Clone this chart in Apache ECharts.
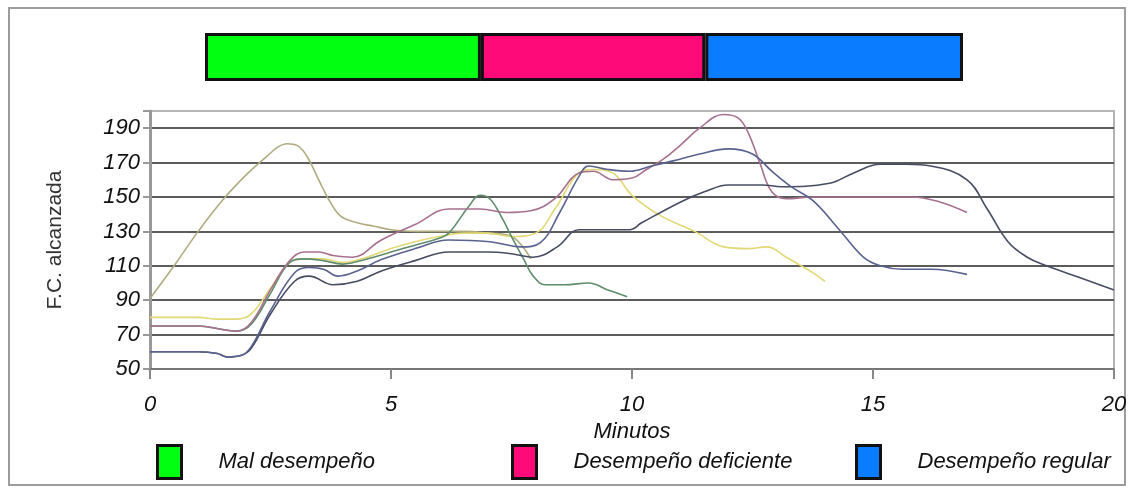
<!DOCTYPE html>
<html>
<head>
<meta charset="utf-8">
<script src="https://cdn.jsdelivr.net/npm/echarts@6/dist/echarts.min.js"></script>
<style>
  html, body { margin: 0; padding: 0; background: #fff; }
  #chart { width: 1134px; height: 493px; }
</style>
</head>
<body>
<div id="chart"></div>
<script>
// bandas de desempeño (barra superior), en % del ancho
var bandNames = ['Mal desempeño', 'Desempeño deficiente', 'Desempeño regular'];
var bandValues = [36.4, 29.6, 34.0];
var bandColors = ['#00ff11', '#ff0a78', '#0a7cff'];

// eje Y
var yTicks = [50, 70, 90, 110, 130, 150, 170, 190];

// curvas de F.C. [minuto, latidos]
var lineOlive = [[0,91],[0.5,110],[1,130],[1.5,148],[2,163],[2.4,173],[2.65,179],[2.85,181],[3.05,180],[3.25,174],[3.5,160],[3.7,149],[3.95,139],[4.3,135],[4.65,133],[5,131],[5.5,130],[6,130],[6.5,130],[7,129],[7.5,127],[7.9,114]];
var lineYellow = [[0,80],[0.5,80],[1,80],[1.4,79],[1.8,79],[2.1,82],[2.5,97],[2.9,112],[3.2,114],[3.6,114],[4,112],[4.5,115],[5,120],[5.5,124],[6,127],[6.5,129],[7,129],[7.5,127],[8,129],[8.4,143],[8.9,164],[9.2,166],[9.6,164],[10,151],[10.6,139],[11.3,130],[11.9,121],[12.4,120],[12.8,121],[13.2,115],[13.75,106],[14,101]];
var lineGreen = [[0,75],[0.5,75],[1,75],[1.5,73],[1.8,72],[2.1,76],[2.5,94],[2.9,112],[3.2,114],[3.6,113],[4,111],[4.5,114],[5,118],[5.5,122],[6,126],[6.2,129],[6.6,144],[6.85,151],[7.05,149],[7.3,138],[7.5,127],[7.75,114],[7.95,104],[8.2,99],[8.6,99],[9.1,100],[9.5,96],[9.9,92]];
var lineMauve = [[0,75],[0.5,75],[1,75],[1.5,73],[1.8,72],[2.1,77],[2.5,96],[2.9,113],[3.2,118],[3.5,118],[3.8,116],[4.2,115],[4.8,125],[5.5,134],[6.2,143],[6.85,143],[7.4,141],[7.9,142],[8.4,149],[8.9,164],[9.2,165],[9.6,160],[10,161],[10.3,166],[10.65,172],[11,180],[11.4,190],[11.9,198],[12.2,196],[12.4,188],[12.65,170],[12.9,153],[13.2,149],[13.75,150],[14.5,150],[15.2,150],[15.8,150],[16.4,147],[16.95,141]];
var lineSlate = [[0,60],[0.5,60],[1,60],[1.4,59],[1.6,57],[1.9,58],[2.1,62],[2.5,82],[3,101],[3.3,104],[3.8,99],[4.3,101],[4.8,107],[5.5,113],[6.2,118],[7,118],[7.5,117],[7.95,115],[8.45,121],[8.9,131],[9.3,131],[9.95,131],[10.2,135],[11,147],[11.5,153],[12,157],[12.7,157],[13.1,156],[14.1,158],[14.6,164],[15.15,169],[15.7,169],[16.2,168],[16.95,160],[17.37,143],[17.8,124],[18.2,115],[18.6,110],[19.3,103],[20,96]];
var lineNavy = [[0,60],[0.5,60],[1,60],[1.4,59],[1.6,57],[1.9,58],[2.1,63],[2.5,84],[3,106],[3.3,109],[3.6,108],[3.9,104],[4.3,107],[4.8,113.6],[5.5,120],[6.2,125],[7.05,124],[7.7,121],[8.1,123.5],[8.5,141],[8.9,162],[9.1,168],[9.5,166],[9.95,165],[10.4,168],[10.85,171],[11.4,175],[12,178],[12.5,175],[12.9,165],[13.3,156],[13.75,148],[14.3,131],[14.8,115],[15.15,110],[15.6,108],[16.2,108],[16.95,105]];

var chart = echarts.init(document.getElementById('chart'));

var fontFam = '"Liberation Sans", Arial, sans-serif';

function curve(name, data, color) {
    return {
        name: name,
        type: 'line',
        xAxisIndex: 0,
        yAxisIndex: 0,
        data: data,
        smooth: 0.4,
        showSymbol: false,
        silent: true,
        lineStyle: { color: color, width: 1.6 },
        z: 3
    };
}

var legendBase = {
    orient: 'horizontal',
    top: 444,
    padding: 0,
    itemWidth: 24,
    itemHeight: 33,
    icon: 'rect',
    selectedMode: false,
    itemStyle: { borderColor: '#111', borderWidth: 3 },
    textStyle: { fontFamily: fontFam, fontStyle: 'italic', fontSize: 22, color: '#111', padding: [0, 0, 0, 32] }
};

var series = [];
for (var i = 0; i < bandNames.length; i++) {
    series.push({
        name: bandNames[i],
        type: 'bar',
        xAxisIndex: 1,
        yAxisIndex: 1,
        stack: 'bandas',
        barWidth: '100%',
        data: [bandValues[i]],
        silent: true,
        itemStyle: { color: bandColors[i], borderColor: '#111', borderWidth: 3 }
    });
}
series.push(curve('olive', lineOlive, '#aeac80'));
series.push(curve('amarillo', lineYellow, '#e2d874'));
series.push(curve('verde', lineGreen, '#5e8c6c'));
series.push(curve('malva', lineMauve, '#a8708f'));
series.push(curve('pizarra', lineSlate, '#474c62'));
series.push(curve('azul', lineNavy, '#5a6290'));

var option = {
    backgroundColor: '#fff',
    animation: false,
    textStyle: { fontFamily: fontFam },
    graphic: [{
        type: 'rect',
        shape: { x: 9, y: 8, width: 1116, height: 477 },
        style: { fill: 'none', stroke: '#9c9c9c', lineWidth: 2 },
        z: 0
    }],
    legend: [
        Object.assign({}, legendBase, { left: 156, data: [bandNames[0]] }),
        Object.assign({}, legendBase, { left: 511, data: [bandNames[1]] }),
        Object.assign({}, legendBase, { left: 855, data: [bandNames[2]] })
    ],
    grid: [
        { left: 150, right: 20, top: 111, bottom: 124, show: true, borderColor: '#b4b4b4', borderWidth: 2 },
        { left: 205, width: 758, top: 33, height: 48 }
    ],
    xAxis: [
        {
            type: 'value',
            gridIndex: 0,
            min: 0,
            max: 20,
            interval: 5,
            name: 'Minutos',
            nameLocation: 'middle',
            nameGap: 46,
            nameTextStyle: { fontFamily: fontFam, fontStyle: 'italic', fontSize: 22, color: '#111' },
            axisLine: { lineStyle: { color: '#777', width: 2 } },
            axisTick: { length: 10, lineStyle: { color: '#888', width: 2 } },
            axisLabel: { margin: 25, fontFamily: fontFam, fontStyle: 'italic', fontSize: 22, color: '#111' },
            splitLine: { show: false }
        },
        { type: 'value', gridIndex: 1, min: 0, max: 100, show: false }
    ],
    yAxis: [
        {
            type: 'value',
            gridIndex: 0,
            min: yTicks[0],
            max: 200,
            interval: 20,
            name: 'F.C. alcanzada',
            nameLocation: 'middle',
            nameGap: 84,
            nameTextStyle: { fontFamily: fontFam, fontSize: 21, color: '#333' },
            axisLine: { show: true, lineStyle: { color: '#999', width: 3 } },
            axisTick: { show: true, length: 7, lineStyle: { color: '#999', width: 2 } },
            axisLabel: {
                margin: 10,
                fontFamily: fontFam,
                fontStyle: 'italic',
                fontSize: 22,
                color: '#111',
                formatter: function (v) { return yTicks.indexOf(v) >= 0 ? String(v) : ''; }
            },
            splitLine: { show: true, showMaxLine: false, lineStyle: { color: '#5c5c5c', width: 2 } }
        },
        { type: 'category', gridIndex: 1, data: ['bandas'], show: false }
    ],
    series: series
};

chart.setOption(option);
</script>
</body>
</html>
